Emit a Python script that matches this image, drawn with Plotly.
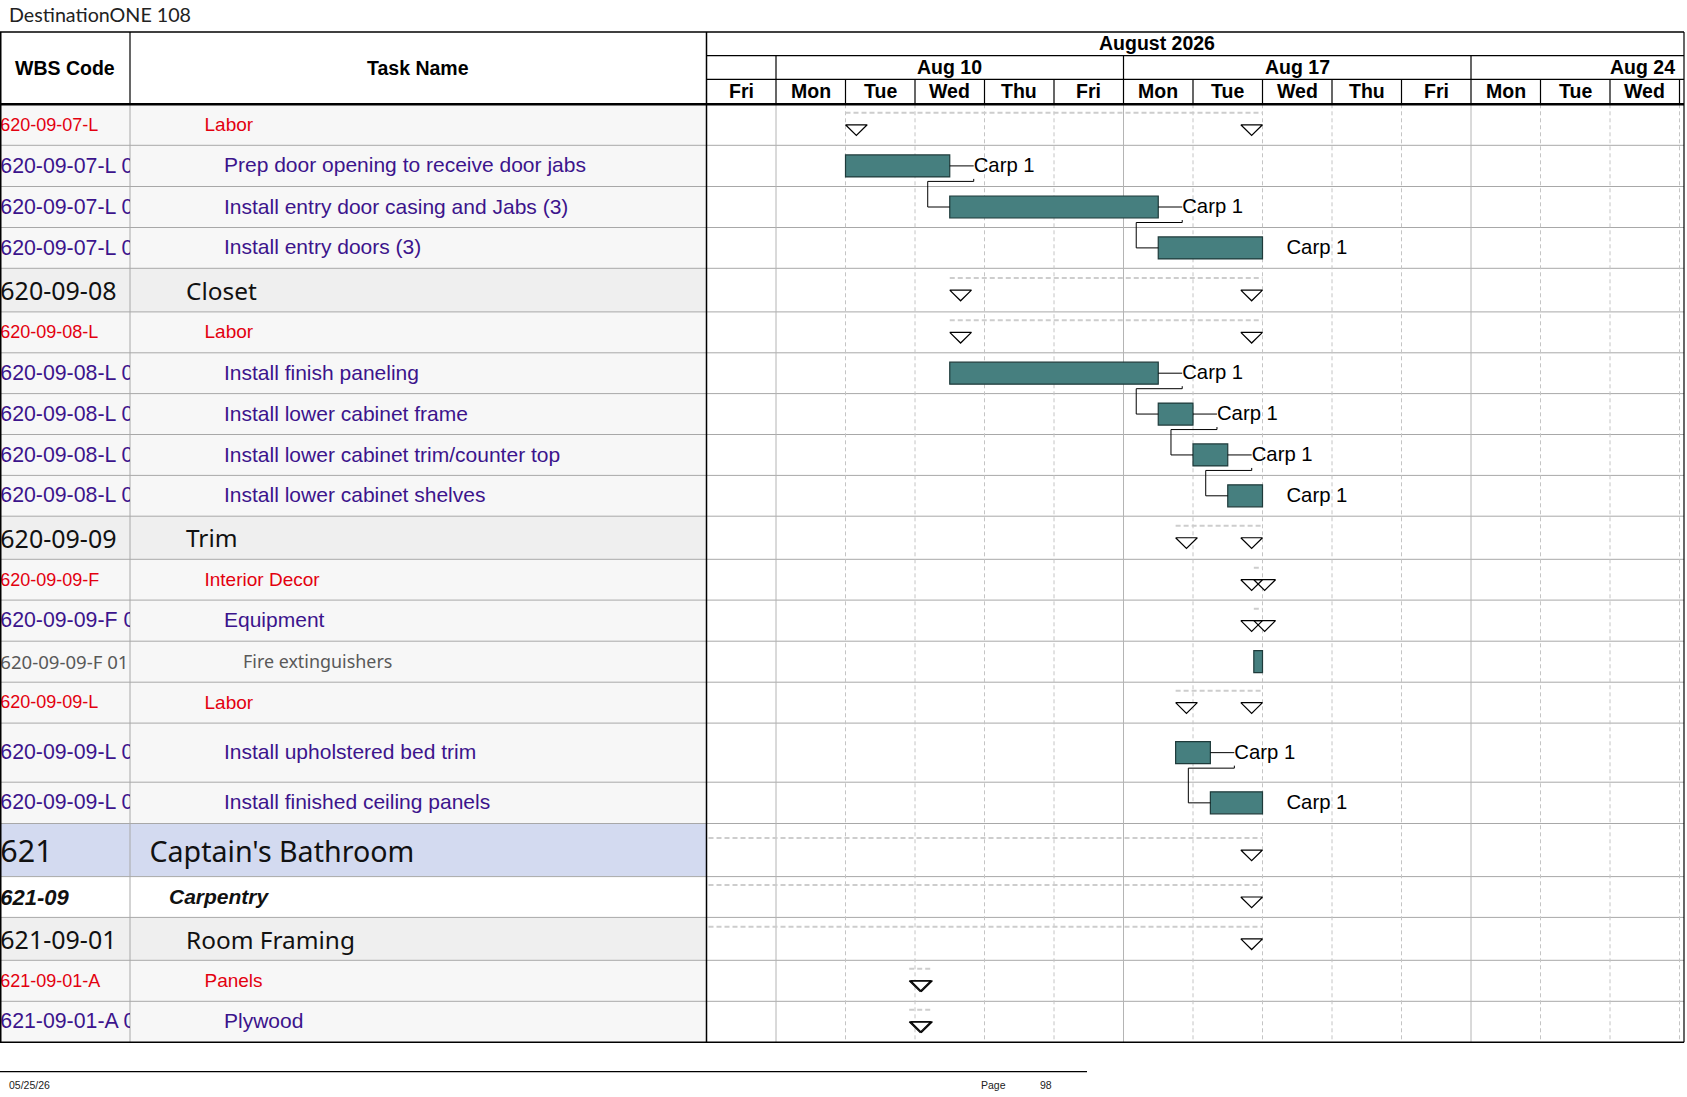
import numpy as np
import plotly.graph_objects as go

# ---------------------------------------------------------------- data
wbs_codes = ["620-09-07-L", "620-09-07-L 01", "620-09-07-L 02", "620-09-07-L 03",
             "620-09-08", "620-09-08-L", "620-09-08-L 01", "620-09-08-L 02",
             "620-09-08-L 03", "620-09-08-L 04", "620-09-09", "620-09-09-F",
             "620-09-09-F 01", "620-09-09-F 01 01", "620-09-09-L", "620-09-09-L 01",
             "620-09-09-L 02", "621", "621-09", "621-09-01", "621-09-01-A",
             "621-09-01-A 01"]
task_names = ["Labor", "Prep door opening to receive door jabs",
              "Install entry door casing and Jabs (3)", "Install entry doors (3)",
              "Closet", "Labor", "Install finish paneling", "Install lower cabinet frame",
              "Install lower cabinet trim/counter top", "Install lower cabinet shelves",
              "Trim", "Interior Decor", "Equipment", "Fire extinguishers", "Labor",
              "Install upholstered bed trim", "Install finished ceiling panels",
              "Captain's Bathroom", "Carpentry", "Room Framing", "Panels", "Plywood"]
row_style = ["group", "task", "task", "task", "section", "group", "task", "task",
             "task", "task", "section", "group", "task", "item", "group", "task",
             "task", "area", "trade", "section", "group", "task"]
is_summary = [True, False, False, False, True, True, False, False, False, False,
              True, True, True, False, True, False, False, True, True, True, True, True]
start_times = ["2026-08-11 00:00", "2026-08-11 00:00", "2026-08-12 12:00", "2026-08-17 12:00",
               "2026-08-12 12:00", "2026-08-12 12:00", "2026-08-12 12:00", "2026-08-17 12:00",
               "2026-08-18 00:00", "2026-08-18 12:00", "2026-08-17 18:00", "2026-08-18 21:00",
               "2026-08-18 21:00", "2026-08-18 21:00", "2026-08-17 18:00", "2026-08-17 18:00",
               "2026-08-18 06:00", "2026-08-03 00:00", "2026-08-03 00:00", "2026-08-03 00:00",
               "2026-08-11 22:00", "2026-08-11 22:00"]
finish_times = ["2026-08-19 00:00", "2026-08-12 12:00", "2026-08-17 12:00", "2026-08-19 00:00",
                "2026-08-19 00:00", "2026-08-19 00:00", "2026-08-17 12:00", "2026-08-18 00:00",
                "2026-08-18 12:00", "2026-08-19 00:00", "2026-08-19 00:00", "2026-08-19 00:00",
                "2026-08-19 00:00", "2026-08-19 00:00", "2026-08-19 00:00", "2026-08-18 06:00",
                "2026-08-19 00:00", "2026-08-19 00:00", "2026-08-19 00:00", "2026-08-19 00:00",
                "2026-08-12 06:00", "2026-08-12 06:00"]
resources = ["", "Carp 1", "Carp 1", "Carp 1", "", "", "Carp 1", "Carp 1", "Carp 1",
             "Carp 1", "", "", "", "", "", "Carp 1", "Carp 1", "", "", "", "", ""]
# finish-to-start links (row index of predecessor, successor)
links = [(1, 2), (2, 3), (6, 7), (7, 8), (8, 9), (15, 16)]

timeline_origin = "2026-08-07"
day_labels = ["Fri", "Mon", "Tue", "Wed", "Thu", "Fri", "Mon", "Tue", "Wed", "Thu",
              "Fri", "Mon", "Tue", "Wed"]
week_labels = ["Aug 10", "Aug 17", "Aug 24"]
week_starts = ["2026-08-10", "2026-08-17", "2026-08-24"]
month_label = "August 2026"
page_title = "DestinationONE 108"
print_date = "05/25/26"
page_number = "98"

# ---------------------------------------------------------------- page geometry (px)
W, H = 1687, 1097
WBS_R = 130
TASK_R = 706.5
CHART_R = 1684
DAY_W = 69.5
TOP = 32
MONTH_B = 55.7
WEEK_B = 79.3
HEAD_B = 104.3
row_heights = [41, 41.2, 41, 40.8, 43.6, 40.9, 40.8, 40.9, 40.9, 40.8, 43.1, 40.8,
               41.1, 41, 40.9, 59.1, 41.3, 53.1, 40.8, 42.9, 41, 41]

heights = np.array(row_heights)
tops = HEAD_B + np.concatenate([[0], np.cumsum(heights)[:-1]])
bottoms = tops + heights
centers = (tops + bottoms) / 2
BOTTOM = bottoms[-1]
X3_MAX = (CHART_R - TASK_R) / DAY_W

ARIAL = "Liberation Sans"
SEGOE = "Noto Sans"
styles = {
    "group":   dict(color="#e3000f", size=19, wsize=18, family=ARIAL, indent=204.5, fill="#f7f7f7", dy=1.3),
    "task":    dict(color="#3c148c", size=21, wsize=21.3, family=ARIAL, indent=224, fill="#f7f7f7", dy=1.3),
    "item":    dict(color="#595959", size=17.9, wsize=18.6, family=SEGOE, indent=243, fill="#f7f7f7", dy=2.2),
    "section": dict(color="#111111", size=24.4, wsize=25, family=SEGOE, indent=186, fill="#efefef", dy=3.6),
    "area":    dict(color="#111111", size=28.6, wsize=30.5, family=SEGOE, indent=149.5, fill="#d3daf0", dy=4.5),
    "trade":   dict(color="#111111", size=21, wsize=22, family=ARIAL, indent=169, fill="#ffffff", dy=2.0),
}

origin = np.datetime64(timeline_origin, "D")


def to_workday(stamp):
    # working-day position on the timeline (weekends removed), day fraction from the clock
    t = np.datetime64(stamp.replace(" ", "T"), "m")
    d = t.astype("datetime64[D]")
    frac = (t - d) / np.timedelta64(1, "D")
    return float(np.busday_count(origin, d) + frac)


starts = [to_workday(s) for s in start_times]
finishes = [to_workday(s) for s in finish_times]

fig = go.Figure()
shapes = []
annotations = []


def line(x0, x1, y0, y1, color="black", width=1, dash="solid", xref="paper", layer="above"):
    if xref == "paper":
        x0, x1 = x0 / W, x1 / W
    shapes.append(dict(type="line", xref=xref, yref="y", x0=x0, x1=x1, y0=y0, y1=y1,
                       line=dict(color=color, width=width, dash=dash), layer=layer))


# row fills in the table
for i, st in enumerate(row_style):
    shapes.append(dict(type="rect", xref="paper", yref="y", x0=0, x1=TASK_R / W,
                       y0=tops[i], y1=bottoms[i], fillcolor=styles[st]["fill"],
                       line=dict(width=0), layer="below"))

# chart body day grid
for i in range(1, len(day_labels) + 1):
    if i < len(day_labels) and day_labels[i] == "Mon":
        line(i, i, HEAD_B, BOTTOM, color="#b4b4b4", width=1, xref="x3", layer="below")
    else:
        line(i, i, HEAD_B, BOTTOM, color="#c4c4c4", width=1, dash="4px,3px", xref="x3", layer="below")

# horizontal row lines
for b in bottoms[:-1]:
    line(0, CHART_R, b, b, color="#a8a8a8", width=1, layer="below")
line(WBS_R, WBS_R, HEAD_B, BOTTOM, color="#a8a8a8", width=1, layer="below")

# table frame and header grid
line(0, CHART_R, TOP, TOP, width=1.5)
line(0, CHART_R, HEAD_B, HEAD_B, width=2.5)
line(0, CHART_R, BOTTOM, BOTTOM, width=1.5)
line(0.75, 0.75, TOP, BOTTOM, width=1.5)
line(WBS_R, WBS_R, TOP, HEAD_B, width=1.2)
line(TASK_R, TASK_R, TOP, BOTTOM, width=1.5)
line(CHART_R, CHART_R, TOP, BOTTOM, width=1.2)
line(TASK_R, CHART_R, MONTH_B, MONTH_B, width=1.2)
line(TASK_R, CHART_R, WEEK_B, WEEK_B, width=1.2)
for i in range(1, len(day_labels) + 1):
    line(i, i, WEEK_B, HEAD_B, width=1.2, xref="x3")
for ws in week_starts:
    p = to_workday(ws + " 00:00")
    line(p, p, MONTH_B, WEEK_B, width=1.2, xref="x3")

# header texts
hfont = dict(family=ARIAL, size=19.5, color="black", weight="bold")


def label(text, x, y, xref="paper", xanchor="center", font=hfont):
    if xref == "paper":
        x = x / W
    annotations.append(dict(text=text, xref=xref, yref="y", x=x, y=y, xanchor=xanchor,
                            yanchor="middle", showarrow=False, font=font))


label("WBS Code", WBS_R / 2, (TOP + HEAD_B) / 2 - 0.5)
label("Task Name", (WBS_R + TASK_R) / 2, (TOP + HEAD_B) / 2 - 0.5)
label(month_label, 6.48, (TOP + MONTH_B) / 2 - 0.5, xref="x3")
for lab, ws in zip(week_labels, week_starts):
    p = to_workday(ws + " 00:00")
    if p + 5 > X3_MAX:
        label(lab, X3_MAX - 0.1, (MONTH_B + WEEK_B) / 2 - 0.5, xref="x3", xanchor="right")
    else:
        label(lab, p + 2.5, (MONTH_B + WEEK_B) / 2 - 0.5, xref="x3")
for i, lab in enumerate(day_labels):
    label(lab, i + 0.5, (WEEK_B + HEAD_B) / 2 - 0.5, xref="x3")

# page title and footer
label(page_title, 7, 14.5, xanchor="left", font=dict(family="Lato", size=19.7, color="#222222"))
line(0, 1087, 1071.7, 1071.7, width=1.3)
ffont = dict(family=ARIAL, size=10.5, color="#222222")
label(print_date, 7, 1084.5, xanchor="left", font=ffont)
label("Page", 979, 1084.5, xanchor="left", font=ffont)
label(page_number, 1038, 1084.5, xanchor="left", font=ffont)

# table texts, one trace per row style so that each keeps its font
for st, s in styles.items():
    idx = [i for i, r in enumerate(row_style) if r == st]
    if not idx:
        continue
    names = [task_names[i] for i in idx]
    codes = [wbs_codes[i] for i in idx]
    if st == "trade":
        names = ["<b><i>%s</i></b>" % n for n in names]
        codes = ["<b><i>%s</i></b>" % c for c in codes]
    ys = [centers[i] + s["dy"] for i in idx]
    fig.add_trace(go.Scatter(
        x=[0.3] * len(idx), y=ys, text=codes,
        mode="text", textposition="middle right", cliponaxis=True, hoverinfo="skip",
        textfont=dict(family=s["family"], size=s["wsize"], color=s["color"]),
        xaxis="x", yaxis="y"))
    fig.add_trace(go.Scatter(
        x=[s["indent"]] * len(idx), y=ys, text=names,
        mode="text", textposition="middle right", cliponaxis=True, hoverinfo="skip",
        textfont=dict(family=s["family"], size=s["size"], color=s["color"]),
        xaxis="x2", yaxis="y"))

# summary rows: dashed span line and open down-triangles at both ends
TRI_HALF = 10.85 / DAY_W
TRI_H = 10.7
sx, sy, tx, ty = [], [], [], []
for i, summ in enumerate(is_summary):
    if not summ:
        continue
    yc = centers[i]
    sx += [starts[i], finishes[i], None]
    sy += [yc - 12, yc - 12, None]
    for c in (starts[i] + TRI_HALF, finishes[i] - TRI_HALF):
        tx += [c - TRI_HALF, c + TRI_HALF, c, c - TRI_HALF, None]
        ty += [yc, yc, yc + TRI_H, yc, None]
fig.add_trace(go.Scatter(x=sx, y=sy, mode="lines", xaxis="x3", yaxis="y", hoverinfo="skip",
                         line=dict(color="#cdcdcd", width=2, dash="5px,3px")))
fig.add_trace(go.Scatter(x=tx, y=ty, mode="lines", xaxis="x3", yaxis="y", hoverinfo="skip",
                         fill="toself", fillcolor="white",
                         line=dict(color="black", width=1.2)))

# task bars
bar_rows = [i for i, summ in enumerate(is_summary) if not summ]
fig.add_trace(go.Bar(
    y=[centers[i] for i in bar_rows],
    base=[starts[i] for i in bar_rows],
    x=[finishes[i] - starts[i] for i in bar_rows],
    orientation="h", width=22, xaxis="x3", yaxis="y", hoverinfo="skip",
    marker=dict(color="#467f7f", line=dict(color="#1e3a3a", width=1.2))))

# links: leader to the resource label, then elbow down to the successor
LEAD = 0.345
BACK = 0.317
lx, ly = [], []
for p, s in links:
    fe, yp, ys = finishes[p], centers[p], centers[s]
    lx += [fe, fe + LEAD, None]
    ly += [yp, yp, None]
    yl = yp + 15.5
    lx += [fe + LEAD, fe + LEAD, fe - BACK, fe - BACK, starts[s], None]
    ly += [yl - 2.5, yl, yl, ys, ys, None]
fig.add_trace(go.Scatter(x=lx, y=ly, mode="lines", xaxis="x3", yaxis="y", hoverinfo="skip",
                         line=dict(color="black", width=1)))

# resource labels
res_rows = [i for i, r in enumerate(resources) if r]
fig.add_trace(go.Scatter(
    x=[finishes[i] + LEAD for i in res_rows], y=[centers[i] + 1 for i in res_rows],
    text=[resources[i] for i in res_rows], mode="text", textposition="middle right",
    cliponaxis=False, hoverinfo="skip", xaxis="x3", yaxis="y",
    textfont=dict(family=ARIAL, size=20.3, color="black")))

fig.update_layout(
    width=W, height=H, margin=dict(l=0, r=0, t=0, b=0),
    paper_bgcolor="white", plot_bgcolor="rgba(0,0,0,0)", showlegend=False,
    xaxis=dict(domain=[0, WBS_R / W], range=[0, WBS_R], visible=False, anchor="y"),
    xaxis2=dict(domain=[WBS_R / W, TASK_R / W], range=[WBS_R, TASK_R], visible=False, anchor="y"),
    xaxis3=dict(domain=[TASK_R / W, CHART_R / W], range=[0, X3_MAX], visible=False, anchor="y"),
    yaxis=dict(domain=[0, 1], range=[H, 0], visible=False, anchor="x"),
    shapes=shapes, annotations=annotations,
)

# the page body keeps a default 8px margin; drop it so the figure fills the window
fig.write_html("out.html", config={"displayModeBar": False},
               post_script="document.body.style.margin='0px';")
